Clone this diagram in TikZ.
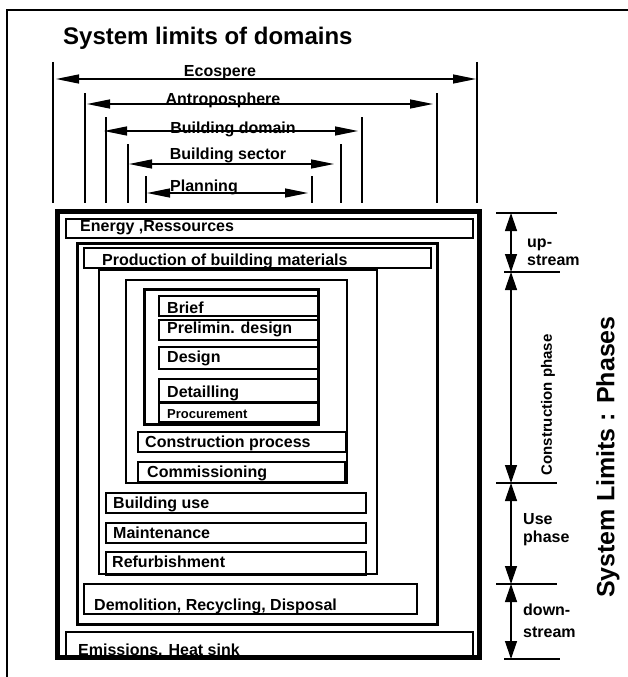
\documentclass[tikz,border=0pt]{standalone}
\usepackage{fontspec}
\setmainfont{Liberation Sans}
\usetikzlibrary{arrows.meta}
\tikzstyle{frame} = [
    line width=1.5pt
]
\tikzstyle{dimline} = [
    line width=1.3pt
]
\tikzstyle{dimarrow} = [
    line width=1.3pt,
    {Triangle[length=23pt,width=9pt]}-{Triangle[length=23pt,width=9pt]}
]
\tikzstyle{phasearrow} = [
    line width=1.3pt,
    {Triangle[length=18pt,width=12pt]}-{Triangle[length=18pt,width=12pt]}
]
\tikzstyle{labelbox} = [
    line width=1.2pt
]
\tikzstyle{boxtext} = [
    inner sep=0pt,
    anchor=base west,
    font=\bfseries\fontsize{16}{18}\selectfont
]
\tikzstyle{domtext} = [
    inner sep=0pt,
    anchor=base,
    font=\bfseries\fontsize{16}{18}\selectfont
]
\tikzstyle{phasetext} = [
    inner sep=0pt,
    anchor=base west,
    align=left,
    font=\bfseries\fontsize{16}{18}\selectfont
]

\begin{document}
\begin{tikzpicture}[x=1pt,y=-1pt]
    \useasboundingbox (0,0) rectangle (628,677);
    % frame
    \draw[frame] (628,10) -- (7,10) -- (7,677);
    \node[boxtext, font=\bfseries\fontsize{24}{28}\selectfont] (title) at (63,45) {System limits of domains};

    % domains
    \foreach \n/\xl/\xr/\al/\ar/\yt/\ya/\xc/\yb/\txt in {
        eco/53/477/56/476/62/79/220/77/Ecospere,
        antro/85/437/87/433/93/104/223/104/Antroposphere,
        bdom/106/362/104/358/117/131/233/133/Building domain,
        bsec/128/341/129/334/144/164/228/159/Building sector,
        plan/146/312/147/308/176/193/204/191/Planning}
    {
        \coordinate (\n-l) at (\al,\ya);
        \coordinate (\n-r) at (\ar,\ya);
        \draw[dimline] (\xl,\yt) -- (\xl,203);
        \draw[dimline] (\xr,\yt) -- (\xr,203);
        \draw[dimarrow] (\n-l) -- (\n-r);
        \node[domtext] (\n) at (\xc,\yb) {\txt};
    }

    % boxes
    \draw[labelbox] (66,219) rectangle (473,238);
    \node[boxtext] (energy) at (80,231) {Energy ,Ressources};
    \draw[line width=3pt] (77,243) rectangle (437,624);
    \draw[labelbox] (84,248) rectangle (431,268);
    \node[boxtext] (production) at (102,265) {Production of building materials};
    \draw[line width=2.5pt] (99,270) rectangle (377,574);
    \draw[line width=2pt] (126,280) rectangle (347,483);
    \draw[line width=3pt] (144,289) rectangle (318,424);
    \draw[labelbox] (159,296) rectangle (318,316);
    \node[boxtext] (brief) at (167,313) {Brief};
    \draw[labelbox] (159,320) rectangle (318,340);
    \node[boxtext] (prelim) at (167,333) {Prelimin. design};
    \draw[labelbox] (159,347) rectangle (318,369);
    \node[boxtext] (design) at (167,362) {Design};
    \draw[labelbox] (159,379) rectangle (318,402);
    \node[boxtext] (detail) at (167,397) {Detailling};
    \draw[labelbox] (159,403) rectangle (318,422);
    \node[boxtext, font=\bfseries\fontsize{13}{15}\selectfont] (procure) at (167,418) {Procurement};
    \draw[labelbox] (138,432) rectangle (346,452);
    \node[boxtext] (constr) at (145,447) {Construction process};
    \draw[labelbox] (138,462) rectangle (345,482);
    \node[boxtext] (commis) at (147,477) {Commissioning};
    \draw[labelbox] (106,493) rectangle (366,513);
    \node[boxtext] (use) at (113,508) {Building use};
    \draw[labelbox] (106,523) rectangle (366,543);
    \node[boxtext] (maint) at (113,538) {Maintenance};
    \draw[labelbox] (106,552) rectangle (366,575);
    \node[boxtext] (refurb) at (112,567) {Refurbishment};
    \draw[labelbox] (84,584) rectangle (417,614);
    \node[boxtext] (demol) at (94,610) {Demolition, Recycling, Disposal};
    \draw[labelbox] (66,657) -- (66,632) -- (473,632) -- (473,657);
    \node[boxtext] (emis) at (78,655) {Emissions. Heat sink};
    \draw[line width=5pt] (57,211) rectangle (479,657);

    % phases
    \coordinate (ph0) at (511,213);
    \coordinate (ph1) at (511,272);
    \coordinate (ph2) at (511,483);
    \coordinate (ph3) at (511,584);
    \coordinate (ph4) at (511,659);
    \foreach \p/\dl/\dr in {ph0/15/46, ph1/7/49, ph2/15/46, ph3/15/46, ph4/7/49}
        \draw[dimline] ([xshift=-\dl pt]\p) -- ([xshift=\dr pt]\p);
    \foreach \a/\b in {ph0/ph1, ph1/ph2, ph2/ph3, ph3/ph4}
        \draw[phasearrow] (\a) -- (\b);
    \node[phasetext] (upstream) at (527,265) {up-\\stream};
    \node[inner sep=0pt, rotate=90, font=\bfseries\fontsize{15}{18}\selectfont] (constrphase) at (548,405) {Construction phase};
    \node[phasetext] (usephase) at (523,542) {Use\\phase};
    \node[phasetext] (downstream) at (523,637) {down-\\[4pt]stream};
    \node[inner sep=0pt, rotate=90, font=\bfseries\fontsize{25}{30}\selectfont] (phases) at (608,457) {System Limits : Phases};
\end{tikzpicture}
\end{document}
